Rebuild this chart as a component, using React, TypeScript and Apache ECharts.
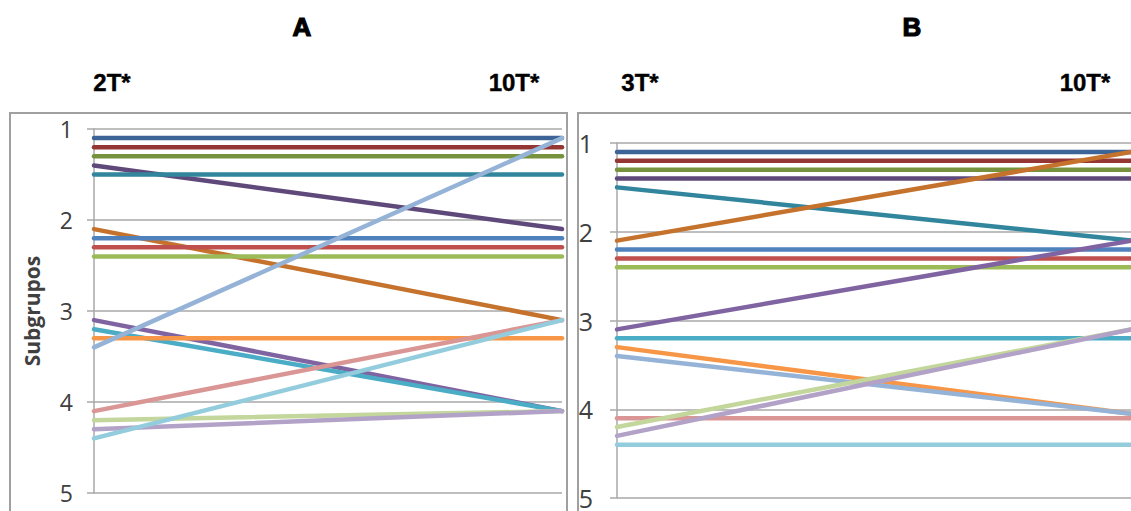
import React, { useEffect, useRef } from "react";
import * as echarts from "echarts";

const categoriesA = ["2T*", "10T*"];
const categoriesB = ["3T*", "10T*"];
const yTicks = [1, 2, 3, 4, 5];

const seriesColors = [
  "#3c6497", "#943634", "#76923c", "#5f497a", "#31859c", "#c5722d",
  "#4f81bd", "#c0504d", "#9bbb59", "#8064a2", "#4bacc6", "#f79646",
  "#95b3d7", "#d99694", "#c3d69b", "#b3a2c7", "#93cddd",
];

// Panel A: ranking at 2T* and at 10T*
const startA = [1.1, 1.2, 1.3, 1.4, 1.5, 2.1, 2.2, 2.3, 2.4, 3.1, 3.2, 3.3, 3.4, 4.1, 4.2, 4.3, 4.4];
const endA = [1.1, 1.2, 1.3, 2.1, 1.5, 3.1, 2.2, 2.3, 2.4, 4.1, 4.1, 3.3, 1.1, 3.1, 4.1, 4.1, 3.1];

// Panel B: ranking at 3T* and at 10T*
const startB = [1.1, 1.2, 1.3, 1.4, 1.5, 2.1, 2.2, 2.3, 2.4, 3.1, 3.2, 3.3, 3.4, 4.1, 4.2, 4.3, 4.4];
const endB = [1.1, 1.2, 1.3, 1.4, 2.1, 1.1, 2.2, 2.3, 2.4, 2.1, 3.2, 4.05, 4.05, 4.1, 3.1, 3.1, 4.4];

const gridColor = "#a8a8a8";
const labelColor = "#404040";
const headFont = "'Liberation Sans', Arial, sans-serif";
const axisFont = "'Open Sans', 'Noto Sans', sans-serif";

export default function App() {
  const ref = useRef<HTMLDivElement>(null);
  useEffect(() => {
    if (!ref.current) return;
    const chart = echarts.init(ref.current, null, { renderer: "svg" });
    const mkSeries = (start: number[], end: number[], idx: number) =>
      start.map((s, i) => ({
        type: "line",
        xAxisIndex: idx,
        yAxisIndex: idx,
        data: [s, end[i]],
        symbol: "none",
        lineStyle: { color: seriesColors[i], width: 4.5, cap: "round" },
        itemStyle: { color: seriesColors[i] },
        z: 2 + i,
      }));
    const yAxisBase = (fontSize: number, margin: number) => ({
      type: "value",
      min: 1,
      max: 5,
      interval: 1,
      inverse: true,
      axisLine: { show: true, lineStyle: { color: gridColor, width: 1.5 } },
      axisTick: { show: true, length: 7, lineStyle: { color: gridColor, width: 1.5 } },
      splitLine: { show: true, lineStyle: { color: gridColor, width: 1.5 } },
      axisLabel: {
        color: labelColor,
        fontSize,
        fontFamily: axisFont,
        margin,
        formatter: (v: number) => (yTicks.includes(v) ? String(v) : ""),
      },
    });
    const head = (text: string, x: number, y: number, size: number) => ({
      type: "text",
      x,
      y,
      style: {
        text,
        font: `bold ${size}px ${headFont}`,
        fill: "#000",
        stroke: "#000",
        lineWidth: size > 24 ? 1.2 : 0.4,
        textAlign: "center",
        textVerticalAlign: "middle",
      },
    });
    chart.setOption({
      animation: false,
      backgroundColor: "#ffffff",
      grid: [
        { left: 94, top: 129, width: 468, height: 364 },
        { left: 617, top: 143, width: 516, height: 355 },
      ],
      xAxis: [
        { type: "category", gridIndex: 0, data: categoriesA, boundaryGap: false, show: false },
        { type: "category", gridIndex: 1, data: categoriesB, boundaryGap: false, show: false },
      ],
      yAxis: [
        {
          ...yAxisBase(23, 21),
          gridIndex: 0,
          name: "Subgrupos",
          nameLocation: "middle",
          nameRotate: 90,
          nameGap: 52,
          nameTextStyle: { color: labelColor, fontSize: 21, fontWeight: "bold", fontFamily: axisFont },
        },
        { ...yAxisBase(25, 24), gridIndex: 1 },
      ],
      graphic: [
        { type: "rect", shape: { x: 10, y: 113, width: 557, height: 420 }, style: { fill: "none", stroke: "#a0a0a0", lineWidth: 2 }, z: 0 },
        { type: "rect", shape: { x: 578, y: 113, width: 580, height: 420 }, style: { fill: "none", stroke: "#a0a0a0", lineWidth: 2 }, z: 0 },
        head("A", 302, 27, 26),
        head("B", 912, 27, 26),
        head(categoriesA[0], 112, 82, 24),
        head(categoriesA[1], 514, 82, 24),
        head(categoriesB[0], 640, 82, 24),
        head(categoriesB[1], 1085, 82, 24),
      ],
      series: [...mkSeries(startA, endA, 0), ...mkSeries(startB, endB, 1)],
    });
    return () => chart.dispose();
  }, []);
  return (
    <div
      ref={ref}
      style={{ position: "fixed", left: 0, top: 0, width: 1131, height: 511, background: "#fff" }}
    />
  );
}
